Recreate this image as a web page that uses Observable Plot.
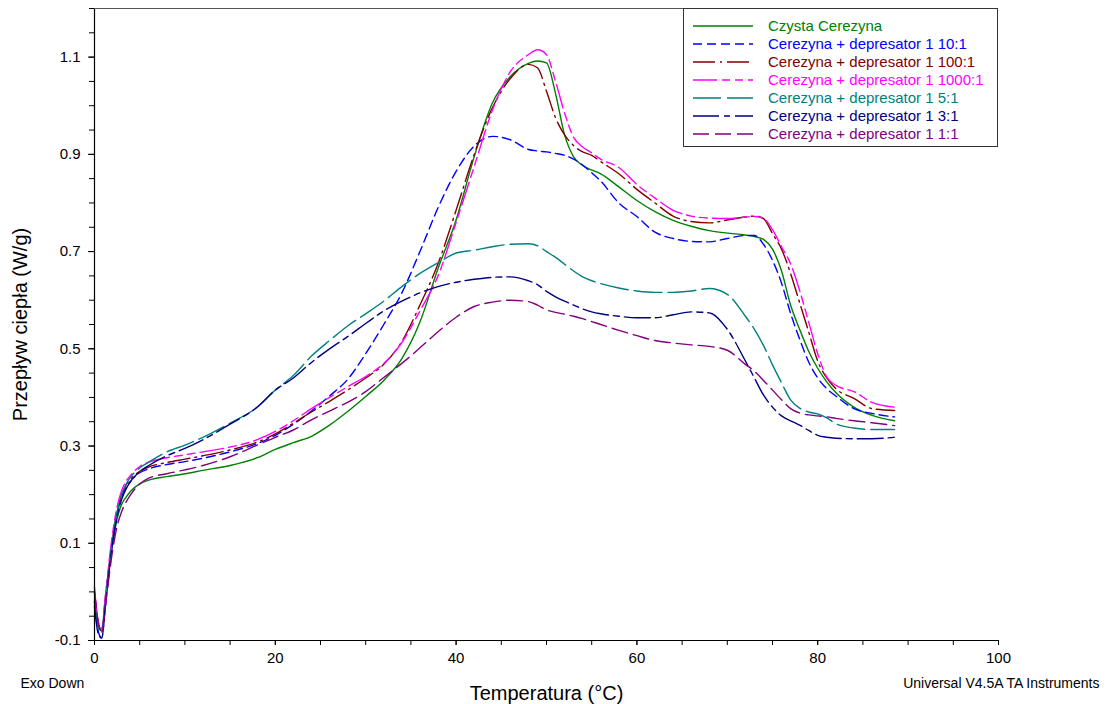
<!DOCTYPE html>
<html>
<head>
<meta charset="utf-8">
<script src="https://cdn.jsdelivr.net/npm/d3@7"></script>
<script src="https://cdn.jsdelivr.net/npm/@observablehq/plot@0.6"></script>
<style>
  body { margin: 0; background: #fff; font-family: "Liberation Sans", Arial, sans-serif; }
  #wrap { position: relative; width: 1107px; height: 704px; }
  #legend { position: absolute; left: 683px; top: 8px; width: 315px; height: 139px;
            border: 1px solid #333; background: #fff; box-sizing: border-box; }
  .item { position: absolute; left: 0; height: 18px; display: flex; align-items: center; }
  .item svg { margin-left: 8px; }
  .item span { position: absolute; left: 84px; font-size: 15px; white-space: nowrap; line-height: 18px; }
</style>
</head>
<body>
<div id="wrap"><div id="legend"></div></div>
<script>
const temps = [0, 0.4, 0.8, 1.2, 1.6, 2, 2.5, 3, 3.5, 4, 5, 6, 8, 10, 12, 15, 18, 20, 22, 24, 26, 28, 30, 32, 34, 36, 38, 40, 42, 44, 46, 48, 49, 50, 51, 52, 53, 54, 55, 56, 58, 60, 62, 64, 66, 68, 70, 72, 73, 74, 75, 76, 77, 78, 79, 80, 81, 82, 84, 86, 88.5];

const czysta = [0.0, -0.07, -0.08, -0.01, 0.05, 0.10, 0.15, 0.18, 0.195, 0.207, 0.222, 0.23, 0.237, 0.243, 0.25, 0.26, 0.276, 0.293, 0.307, 0.32, 0.343, 0.371, 0.402, 0.435, 0.48, 0.555, 0.665, 0.765, 0.895, 1.005, 1.06, 1.087, 1.092, 1.088, 1.025, 0.94, 0.895, 0.877, 0.868, 0.86, 0.833, 0.805, 0.782, 0.764, 0.752, 0.743, 0.738, 0.734, 0.731, 0.725, 0.705, 0.66, 0.59, 0.54, 0.495, 0.46, 0.432, 0.41, 0.38, 0.363, 0.352];

const dep10 = [-0.02, -0.08, -0.095, -0.03, 0.04, 0.10, 0.16, 0.195, 0.215, 0.228, 0.245, 0.253, 0.262, 0.268, 0.275, 0.288, 0.305, 0.322, 0.345, 0.372, 0.403, 0.437, 0.49, 0.55, 0.615, 0.70, 0.79, 0.865, 0.917, 0.937, 0.93, 0.91, 0.907, 0.905, 0.902, 0.898, 0.89, 0.878, 0.862, 0.845, 0.80, 0.772, 0.74, 0.727, 0.721, 0.72, 0.727, 0.733, 0.733, 0.715, 0.682, 0.635, 0.573, 0.52, 0.473, 0.44, 0.418, 0.403, 0.377, 0.367, 0.36];

const dep100 = [0.0, -0.06, -0.08, -0.02, 0.05, 0.11, 0.165, 0.20, 0.22, 0.232, 0.248, 0.257, 0.266, 0.273, 0.28, 0.292, 0.308, 0.325, 0.347, 0.37, 0.392, 0.415, 0.44, 0.468, 0.515, 0.59, 0.675, 0.785, 0.90, 0.995, 1.056, 1.085, 1.078, 1.03, 0.975, 0.94, 0.918, 0.905, 0.898, 0.885, 0.86, 0.828, 0.80, 0.773, 0.762, 0.759, 0.765, 0.771, 0.773, 0.768, 0.737, 0.705, 0.655, 0.595, 0.535, 0.475, 0.44, 0.418, 0.398, 0.377, 0.373];

const dep1000 = [0.01, -0.06, -0.075, -0.01, 0.06, 0.12, 0.175, 0.208, 0.228, 0.24, 0.258, 0.267, 0.276, 0.282, 0.288, 0.298, 0.313, 0.33, 0.352, 0.377, 0.40, 0.422, 0.443, 0.47, 0.513, 0.578, 0.65, 0.76, 0.875, 0.99, 1.07, 1.105, 1.115, 1.105, 1.05, 0.985, 0.935, 0.915, 0.903, 0.89, 0.873, 0.838, 0.81, 0.785, 0.773, 0.769, 0.768, 0.771, 0.772, 0.768, 0.745, 0.71, 0.675, 0.62, 0.555, 0.49, 0.442, 0.425, 0.412, 0.39, 0.38];

const dep5 = [-0.02, -0.07, -0.085, -0.02, 0.05, 0.11, 0.165, 0.20, 0.222, 0.236, 0.255, 0.267, 0.288, 0.302, 0.318, 0.347, 0.38, 0.415, 0.445, 0.485, 0.517, 0.547, 0.572, 0.598, 0.628, 0.655, 0.677, 0.697, 0.703, 0.71, 0.715, 0.716, 0.712, 0.70, 0.688, 0.674, 0.66, 0.648, 0.64, 0.634, 0.625, 0.619, 0.616, 0.616, 0.619, 0.624, 0.612, 0.567, 0.54, 0.507, 0.467, 0.43, 0.395, 0.378, 0.37, 0.366, 0.358, 0.346, 0.337, 0.334, 0.334];

const dep3 = [-0.03, -0.085, -0.095, -0.03, 0.04, 0.10, 0.155, 0.19, 0.212, 0.227, 0.247, 0.26, 0.28, 0.295, 0.313, 0.345, 0.38, 0.415, 0.44, 0.472, 0.50, 0.525, 0.552, 0.578, 0.598, 0.615, 0.628, 0.637, 0.643, 0.647, 0.648, 0.64, 0.632, 0.618, 0.607, 0.598, 0.59, 0.582, 0.576, 0.572, 0.567, 0.564, 0.564, 0.57, 0.576, 0.574, 0.54, 0.475, 0.44, 0.405, 0.38, 0.362, 0.352, 0.343, 0.332, 0.322, 0.318, 0.316, 0.315, 0.315, 0.318];

const dep1 = [0.0, -0.06, -0.085, -0.03, 0.03, 0.085, 0.135, 0.165, 0.185, 0.2, 0.222, 0.234, 0.243, 0.251, 0.26, 0.278, 0.302, 0.318, 0.333, 0.354, 0.372, 0.39, 0.412, 0.441, 0.47, 0.502, 0.535, 0.565, 0.587, 0.596, 0.60, 0.597, 0.59, 0.58, 0.575, 0.571, 0.567, 0.562, 0.556, 0.55, 0.538, 0.527, 0.517, 0.512, 0.508, 0.505, 0.497, 0.468, 0.454, 0.435, 0.415, 0.395, 0.377, 0.368, 0.364, 0.362, 0.36, 0.357, 0.352, 0.348, 0.342];

const seriesNames = ["Czysta Cerezyna", "Cerezyna + depresator 1 10:1", "Cerezyna + depresator 1 100:1", "Cerezyna + depresator 1 1000:1", "Cerezyna + depresator 1 5:1", "Cerezyna + depresator 1 3:1", "Cerezyna + depresator 1 1:1"];
const seriesValues = [czysta, dep10, dep100, dep1000, dep5, dep3, dep1];
const seriesColors = ["#008000", "#0000ff", "#800000", "#ff00ff", "#008080", "#000080", "#800080"];
const seriesDash = [null, "9,5", "22,5,2,5", "24,5,8,5,8,5", "28,6", "26,5,6,5", "16,6"];

const majorX = [0, 20, 40, 60, 80, 100];
const minorX = d3.range(0, 101, 5);
const majorY = [-0.1, 0.1, 0.3, 0.5, 0.7, 0.9, 1.1];
const minorY = d3.range(0, 27).map(i => -0.1 + i * 0.05);

const rows = seriesNames.flatMap((name, i) => temps.map((t, j) => ({T: t, v: seriesValues[i][j], name})));

const lineMarks = seriesNames.map((name, i) =>
  Plot.line(rows.filter(d => d.name === name), {
    x: "T", y: "v", stroke: seriesColors[i], strokeWidth: 1.4,
    strokeDasharray: seriesDash[i] || undefined, curve: "monotone-x"
  })
);

const chart = Plot.plot({
  width: 1107, height: 704,
  marginLeft: 94, marginRight: 109, marginTop: 8, marginBottom: 64,
  style: {fontFamily: "'Liberation Sans', Arial, sans-serif", background: "#fff", color: "#000"},
  x: {domain: [0, 100]},
  y: {domain: [-0.1, 1.2]},
  marks: [
    Plot.axisY(minorY, {tickSize: 5, tickFormat: () => "", label: null, stroke: "#000"}),
    Plot.axisY(majorY, {tickSize: 6, tickPadding: 8, tickFormat: d => d.toFixed(1), fontSize: 15, label: null, stroke: "#000"}),
    Plot.axisX(minorX, {tickSize: 5, tickFormat: () => "", label: null, stroke: "#000"}),
    Plot.axisX(majorX, {tickSize: 5, tickPadding: 7, tickFormat: d => String(d), fontSize: 15, label: null, stroke: "#000"}),
    ...lineMarks,
    Plot.ruleX([0], {stroke: "#000", strokeWidth: 1.2}),
    Plot.ruleY([-0.1], {stroke: "#000", strokeWidth: 1.2}),
    Plot.ruleY([1.2], {stroke: "#555", strokeWidth: 1}),
    Plot.text(["Temperatura (°C)"], {frameAnchor: "bottom", dy: 59, lineAnchor: "bottom", fontSize: 20, fill: "#000"}),
    Plot.text(["Przepływ ciepła (W/g)"], {frameAnchor: "left", dx: -74, rotate: -90, textAnchor: "middle", fontSize: 20, fill: "#000"}),
    Plot.text(["Exo Down"], {frameAnchor: "bottom-left", dx: -74, dy: 47, textAnchor: "start", fontSize: 14, fill: "#000"}),
    Plot.text(["Universal V4.5A TA Instruments"], {frameAnchor: "bottom-right", dx: 101, dy: 47, textAnchor: "end", fontSize: 14, fill: "#000"})
  ]
});

const wrap = document.getElementById("wrap");
wrap.insertBefore(chart, wrap.firstChild);

const legend = document.getElementById("legend");
seriesNames.forEach((name, i) => {
  const item = document.createElement("div");
  item.className = "item";
  item.style.top = (8 + i * 18) + "px";
  const dash = seriesDash[i] ? `stroke-dasharray="${seriesDash[i]}"` : "";
  item.innerHTML = `<svg width="62" height="18"><line x1="1" y1="9" x2="61" y2="9" stroke="${seriesColors[i]}" stroke-width="1.4" ${dash}/></svg><span style="color:${seriesColors[i]}">${name}</span>`;
  legend.appendChild(item);
});
</script>
</body>
</html>
